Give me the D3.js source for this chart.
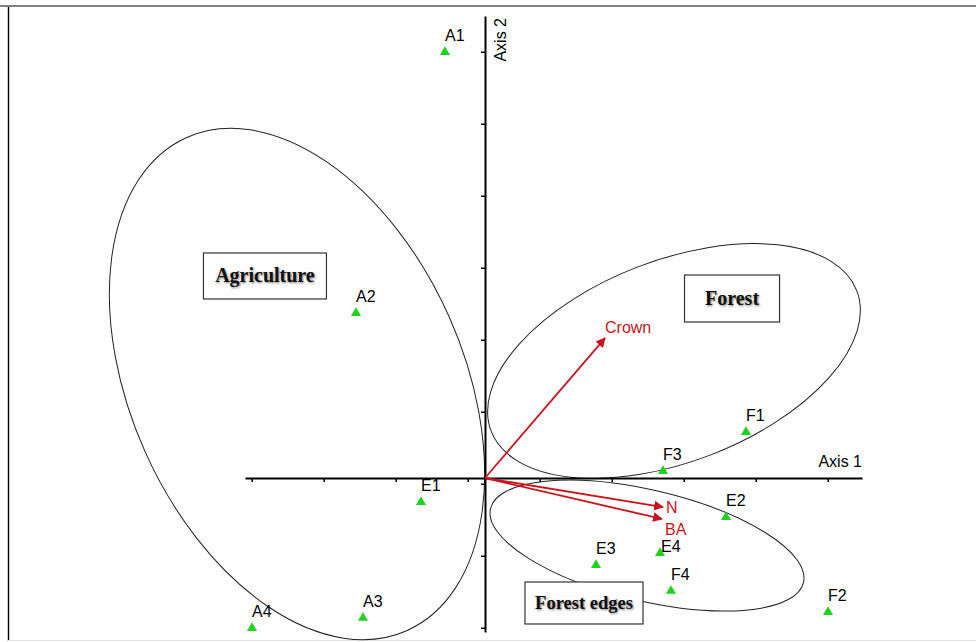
<!DOCTYPE html>
<html>
<head>
<meta charset="utf-8">
<script src="https://cdn.jsdelivr.net/npm/d3@7"></script>
<style>
  html, body { margin: 0; padding: 0; background: #fff; }
  svg { display: block; }
</style>
</head>
<body>
<svg id="chart" width="976" height="642"></svg>
<script>
// ---------- DATA ----------
const siteNames = ["A1","A2","A3","A4","E1","E2","E3","E4","F1","F2","F3","F4"];
const siteX     = [-0.556,-1.792,-1.694,-3.236,-0.889, 3.347, 1.542, 2.431, 3.625, 4.764, 2.472, 2.583];
const siteY     = [ 5.917, 2.292,-1.944,-2.083,-0.333,-0.542,-1.208,-1.042, 0.639,-1.861, 0.097,-1.569];

const vectorNames = ["Crown","N","BA"];
const vectorX     = [1.667, 2.472, 2.458];
const vectorY     = [1.944,-0.403,-0.569];

const groupNames  = ["Agriculture","Forest","Forest edges"];
const groupCX     = [-2.611, 2.625, 2.250];
const groupCY     = [ 1.306, 1.625,-0.938];
const groupRA     = [ 3.75,  2.72,  2.233];
const groupRB     = [ 2.31,  1.40,  0.771];
const groupAngle  = [-65.9, 21.0, -13.3];   // degrees, counter-clockwise
const groupBoxX   = [-3.056, 3.431, 1.375];  // box centre
const groupBoxY   = [ 2.806, 2.493,-1.736];

const xTicks = [-3.24,-2.24,-1.24,-0.24,0.76,1.76,2.76,3.76,4.76];
const yTicks = [5.92,4.92,3.92,2.92,1.92,0.92,-0.08,-1.08,-2.08];
const xDomain = [-3.333, 5.236];
const yDomain = [-2.139, 6.417];
const axisLabels = ["Axis 1","Axis 2"];

// ---------- SCALES ----------
const svg = d3.select("#chart");
const x = d3.scaleLinear().domain(xDomain).range([245, 862]);
const y = d3.scaleLinear().domain(yDomain).range([632, 16]);
const unit = x(1) - x(0);
const sans = "'Liberation Sans', Arial, sans-serif";
const fs = 16;

// frame
svg.append("line").attr("x1",0).attr("x2",976).attr("y1",6).attr("y2",6)
  .attr("stroke","#808080").attr("stroke-width",2.2);
svg.append("line").attr("x1",8.5).attr("x2",8.5).attr("y1",7).attr("y2",641)
  .attr("stroke","#000").attr("stroke-width",1.4);
svg.append("line").attr("x1",8).attr("x2",976).attr("y1",640.5).attr("y2",640.5)
  .attr("stroke","#e4e4e4").attr("stroke-width",1);

// ---------- ELLIPSES ----------
const gEll = svg.append("g");
groupNames.forEach((n,i) => {
  gEll.append("ellipse")
    .attr("cx",0).attr("cy",0)
    .attr("rx", groupRA[i]*unit).attr("ry", groupRB[i]*unit)
    .attr("transform", `translate(${x(groupCX[i])},${y(groupCY[i])}) rotate(${-groupAngle[i]})`)
    .attr("fill","none").attr("stroke","#222").attr("stroke-width",1);
});

// ---------- AXES ----------
const xAxis = d3.axisBottom(x).tickValues(xTicks).tickSize(4).tickSizeOuter(0).tickFormat("");
const yAxis = d3.axisLeft(y).tickValues(yTicks).tickSize(4).tickSizeOuter(0).tickFormat("");
const gx = svg.append("g").attr("transform",`translate(0,${y(0)})`).call(xAxis);
const gy = svg.append("g").attr("transform",`translate(${x(0)},0)`).call(yAxis);
[gx,gy].forEach(g => {
  g.select(".domain").attr("stroke","#000").attr("stroke-width",2);
  g.selectAll(".tick line").attr("stroke","#000").attr("stroke-width",1.5);
});
svg.append("text").attr("x",862).attr("y",y(0)-11).attr("text-anchor","end")
  .attr("font-family",sans).attr("font-size",fs)
  .attr("fill","#000").text(axisLabels[0]);
svg.append("text").attr("transform",`translate(${x(0)+21},18) rotate(-90)`)
  .attr("text-anchor","end")
  .attr("font-family",sans).attr("font-size",fs)
  .attr("fill","#000").text(axisLabels[1]);

// ---------- VECTORS ----------
const red = "#c8151b";
const defs = svg.append("defs");
defs.append("marker").attr("id","ah").attr("viewBox","0 0 10 10")
  .attr("refX",9).attr("refY",5).attr("markerWidth",5.5).attr("markerHeight",5.5)
  .attr("markerUnits","strokeWidth").attr("orient","auto")
  .append("path").attr("d","M0,0 L10,5 L0,10 z").attr("fill",red);
const vecLabelOffset = {Crown:[0,-5], N:[3,6], BA:[3,16]};
vectorNames.forEach((n,i) => {
  svg.append("line").attr("x1",x(0)).attr("y1",y(0))
    .attr("x2",x(vectorX[i])).attr("y2",y(vectorY[i]))
    .attr("stroke",red).attr("stroke-width",1.8).attr("marker-end","url(#ah)");
  const o = vecLabelOffset[n];
  svg.append("text").attr("x",x(vectorX[i])+o[0]).attr("y",y(vectorY[i])+o[1])
    .attr("font-family",sans).attr("font-size",fs)
    .attr("fill",red).text(n);
});

// ---------- SITES ----------
const tri = d3.symbol().type(d3.symbolTriangle).size(44);
const labelOffset = {E4:[1,-1]};
siteNames.forEach((n,i) => {
  svg.append("path").attr("d",tri())
    .attr("transform",`translate(${x(siteX[i])},${y(siteY[i])})`)
    .attr("fill","#1fd21f");
});
siteNames.forEach((n,i) => {
  const o = labelOffset[n] || [0,-11];
  svg.append("text").attr("x",x(siteX[i])+o[0]).attr("y",y(siteY[i])+o[1])
    .attr("font-family",sans).attr("font-size",fs)
    .attr("fill","#000").text(n);
});

// ---------- GROUP BOXES ----------
const blur = defs.append("filter").attr("id","sh").attr("x","-10%").attr("y","-30%")
  .attr("width","130%").attr("height","160%");
blur.append("feGaussianBlur").attr("stdDeviation",0.8);
const boxFont = [20, 20, 18.5];
const boxW = [123, 95, 118];
const boxH = [46, 47, 42];
groupNames.forEach((n,i) => {
  const cx = x(groupBoxX[i]), cy = y(groupBoxY[i]);
  const g = svg.append("g");
  g.append("rect").attr("x",cx-boxW[i]/2).attr("y",cy-boxH[i]/2)
    .attr("width",boxW[i]).attr("height",boxH[i])
    .attr("fill","#fff").attr("stroke","#333").attr("stroke-width",1.2);
  g.append("text").attr("x",cx+1).attr("y",cy+7.5).attr("text-anchor","middle")
    .attr("font-family","'Liberation Serif', 'Times New Roman', serif")
    .attr("font-weight","bold").attr("font-size",boxFont[i]).attr("fill","#777")
    .attr("filter","url(#sh)").text(n);
  g.append("text").attr("x",cx).attr("y",cy+6.5).attr("text-anchor","middle")
    .attr("font-family","'Liberation Serif', 'Times New Roman', serif")
    .attr("font-weight","bold").attr("font-size",boxFont[i]).attr("fill","#111").text(n);
});
</script>
</body>
</html>
